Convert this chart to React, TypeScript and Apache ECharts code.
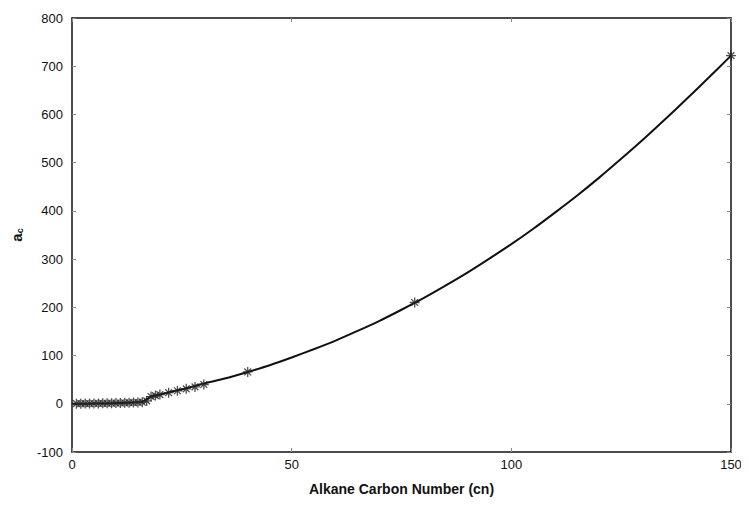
import React, { useEffect, useRef } from "react";
import * as echarts from "echarts";

const markerCn = [1, 2, 3, 4, 5, 6, 7, 8, 9, 10, 11, 12, 13, 14, 15, 16, 17, 18, 19, 20, 22, 24, 26, 28, 30, 40, 78, 150];
const markerAc = [0.2, 0.3, 0.4, 0.5, 0.6, 0.7, 0.9, 1.0, 1.2, 1.4, 1.6, 1.9, 2.2, 2.5, 2.9, 3.3, 6, 15, 17, 19, 23, 27, 31, 35, 40, 66, 210, 722];

const curveCn = [0, 5, 10, 15, 16, 17, 18, 20, 25, 30, 35, 40, 45, 50, 55, 60, 65, 70, 75, 80, 85, 90, 95, 100, 105, 110, 115, 120, 125, 130, 135, 140, 145, 150];
const curveAc = [0, 0.5, 1, 3, 4, 9, 15, 19, 30, 42, 53, 66, 80, 96, 113, 131, 151, 172, 195, 219, 245, 272, 301, 331, 363, 397, 432, 469, 508, 548, 590, 633, 677, 722];

const xTicks = [0, 50, 100, 150];
const yRange = [-100, 800];

const FONT = "'Liberation Sans Narrow', 'Arial Narrow', 'Liberation Sans', Arial, sans-serif";
const STAR = "path://M5 0L5 10M0 5L10 5M1.6 1.6L8.4 8.4M8.4 1.6L1.6 8.4";

export default function App() {
  const ref = useRef<HTMLDivElement>(null);
  useEffect(() => {
    if (!ref.current) return;
    const chart = echarts.init(ref.current, null, { renderer: "svg" });
    const axisCommon = {
      axisLine: { show: true, onZero: false, lineStyle: { color: "#111", width: 1.5 } },
      axisTick: { show: true, inside: true, length: 4, lineStyle: { color: "#888", width: 1 } },
      splitLine: { show: false },
    };
    chart.setOption({
      animation: false,
      backgroundColor: "#fff",
      grid: { left: 64, right: 10, top: 10, bottom: 54, show: false, containLabel: false, outerBoundsMode: "none" },
      xAxis: [
        {
          type: "value",
          min: xTicks[0],
          max: xTicks[xTicks.length - 1],
          interval: 50,
          ...axisCommon,
          axisLabel: { color: "#111", fontFamily: FONT, fontSize: 13, margin: 6 },
          name: "Alkane Carbon Number (cn)",
          nameLocation: "middle",
          nameGap: 30,
          nameTextStyle: { color: "#111", fontFamily: FONT, fontSize: 14, fontWeight: "bold" },
        },
        {
          type: "value",
          position: "top",
          min: xTicks[0],
          max: xTicks[xTicks.length - 1],
          interval: 50,
          ...axisCommon,
          axisLabel: { show: false },
        },
      ],
      yAxis: [
        {
          type: "value",
          min: yRange[0],
          max: yRange[1],
          interval: 100,
          ...axisCommon,
          axisLabel: { color: "#111", fontFamily: FONT, fontSize: 13, margin: 9 },
          name: "{a|a}{c|c}",
          nameLocation: "middle",
          nameGap: 48,
          nameRotate: 90,
          nameTextStyle: {
            color: "#111",
            rich: {
              a: { fontFamily: FONT, fontSize: 15, fontWeight: "bold", color: "#111" },
              c: { fontFamily: FONT, fontSize: 9, fontWeight: "bold", color: "#111", verticalAlign: "bottom", padding: [6, 0, 0, 0] },
            },
          },
        },
        {
          type: "value",
          position: "right",
          min: yRange[0],
          max: yRange[1],
          interval: 100,
          ...axisCommon,
          axisLabel: { show: false },
        },
      ],
      series: [
        {
          type: "line",
          name: "fit",
          data: curveCn.map((c, i) => [c, curveAc[i]]),
          smooth: 0.3,
          showSymbol: false,
          symbol: "none",
          lineStyle: { color: "#111", width: 2 },
          z: 2,
        },
        {
          type: "scatter",
          name: "data",
          data: markerCn.map((c, i) => [c, markerAc[i]]),
          symbol: STAR,
          symbolSize: 10,
          itemStyle: { color: "none", borderColor: "#222", borderWidth: 1.3 },
          z: 3,
        },
      ],
    });
    return () => chart.dispose();
  }, []);
  return <div ref={ref} style={{ width: 733, height: 498 }} />;
}
